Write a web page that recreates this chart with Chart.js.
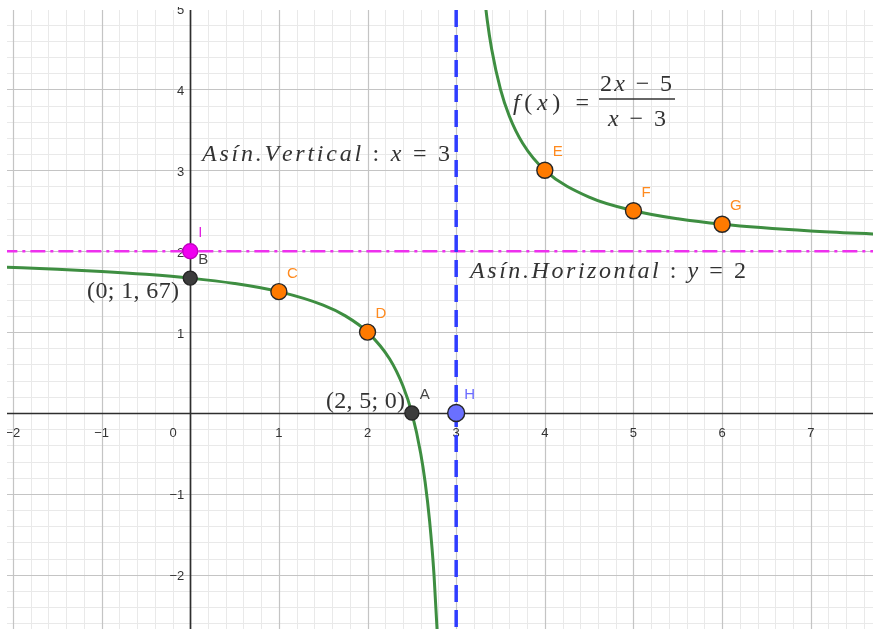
<!DOCTYPE html>
<html>
<head>
<meta charset="utf-8">
<script src="https://cdn.jsdelivr.net/npm/chart.js@4.4.1/dist/chart.umd.min.js"></script>
<style>
  html, body { margin: 0; padding: 0; background: #ffffff; }
  #wrap { width: 873px; height: 634px; }
</style>
</head>
<body>
<div id="wrap"><canvas id="graph"></canvas></div>
<script>
// f(x) = (2x − 5)/(x − 3), traced as two branches on either side of x = 3
const leftBranchX  = [-2.1, -1.5, -1, -0.5, 0, 0.5, 1, 1.5, 1.75, 2, 2.25, 2.4, 2.5, 2.6, 2.65, 2.7, 2.75, 2.8];
const leftBranchY  = [1.804, 1.778, 1.75, 1.714, 1.667, 1.6, 1.5, 1.333, 1.2, 1, 0.667, 0.333, 0, -0.5, -0.857, -1.333, -2, -3];
const rightBranchX = [3.3, 3.35, 3.4, 3.5, 3.6, 3.75, 4, 4.5, 5, 5.5, 6, 7, 7.8];
const rightBranchY = [5.333, 4.857, 4.5, 4, 3.667, 3.333, 3, 2.667, 2.5, 2.4, 2.333, 2.25, 2.208];

// asymptotes
const verticalAsymptoteX = 3;
const horizontalAsymptoteY = 2;

// named points
const orangeNames = ['C', 'D', 'E', 'F', 'G'];
const orangeX = [1, 2, 4, 5, 6];
const orangeY = [1.5, 1, 3, 2.5, 2.333];
const blackNames = ['B', 'A'];
const blackX = [0, 2.5];
const blackY = [1.667, 0];
const magentaNames = ['I'];
const magentaX = [0];
const magentaY = [2];
const blueNames = ['H'];
const blueX = [3];
const blueY = [0];

// axis tick labels
const xTickValues = [-2, -1, 0, 1, 2, 3, 4, 5, 6, 7];
const yTickValues = [-2, -1, 1, 2, 3, 4, 5];

// visible window
const X_MIN = -2.067, X_MAX = 7.702, Y_MIN = -2.67, Y_MAX = 4.981;

const pairs = (xs, ys) => xs.map((x, i) => ({ x, y: ys[i] }));
const fmt = v => (v < 0 ? '\u2212' + Math.abs(v) : String(v));

// draws a string made of upright / italic runs, char by char, optionally stretched to a width
function drawRuns(ctx, runs, x, baseline, o) {
  const fontFor = it => `${it ? 'italic ' : ''}${o.size}px ${o.family}`;
  const chars = [];
  runs.forEach(r => { for (const ch of r.t) chars.push({ ch, it: r.it }); });
  let natural = 0;
  chars.forEach(c => { ctx.font = fontFor(c.it); c.w = ctx.measureText(c.ch).width; natural += c.w; });
  const extra = o.width ? (o.width - natural) / Math.max(1, chars.length - 1) : 0;
  const total = natural + extra * (chars.length - 1);
  let cx = o.align === 'right' ? x - total : o.align === 'center' ? x - total / 2 : x;
  ctx.fillStyle = o.color;
  ctx.textAlign = 'left';
  ctx.textBaseline = 'alphabetic';
  chars.forEach(c => { ctx.font = fontFor(c.it); ctx.fillText(c.ch, cx, baseline); cx += c.w + extra; });
}

const MATH = '"Liberation Serif", "DejaVu Serif", serif';
const TEXT_COLOR = '#333333';

// grid, axes and axis numbers
const coordGrid = {
  id: 'coordGrid',
  beforeDatasetsDraw(chart) {
    const { ctx, chartArea: a, scales: { x, y } } = chart;
    ctx.save();
    ctx.beginPath();
    ctx.rect(a.left, a.top, a.right - a.left, a.bottom - a.top);
    ctx.clip();
    const vline = (v, color, w) => {
      const p = Math.round(x.getPixelForValue(v)) + 0.5;
      ctx.strokeStyle = color; ctx.lineWidth = w;
      ctx.beginPath(); ctx.moveTo(p, a.top); ctx.lineTo(p, a.bottom); ctx.stroke();
    };
    const hline = (v, color, w) => {
      const p = Math.round(y.getPixelForValue(v)) + 0.5;
      ctx.strokeStyle = color; ctx.lineWidth = w;
      ctx.beginPath(); ctx.moveTo(a.left, p); ctx.lineTo(a.right, p); ctx.stroke();
    };
    // minor lines every 0.2
    for (let k = Math.ceil(X_MIN * 5); k <= Math.floor(X_MAX * 5); k++) if (k % 5) vline(k / 5, '#e9e9e9', 1);
    for (let k = Math.ceil(Y_MIN * 5); k <= Math.floor(Y_MAX * 5); k++) if (k % 5) hline(k / 5, '#e9e9e9', 1);
    // major lines every unit
    for (let k = Math.ceil(X_MIN); k <= Math.floor(X_MAX); k++) if (k) vline(k, '#c4c4c4', 1.2);
    for (let k = Math.ceil(Y_MIN); k <= Math.floor(Y_MAX); k++) if (k) hline(k, '#c4c4c4', 1.2);
    // axes
    vline(0, '#2e2e2e', 1.7);
    hline(0, '#2e2e2e', 1.7);
    ctx.restore();

    // axis numbers
    ctx.save();
    ctx.beginPath();
    ctx.rect(a.left, a.top - 3, a.right - a.left, a.bottom - a.top + 3);
    ctx.clip();
    ctx.fillStyle = '#333333';
    ctx.font = '13px "Liberation Sans", Arial, sans-serif';
    ctx.textBaseline = 'middle';
    const y0 = y.getPixelForValue(0);
    const x0 = x.getPixelForValue(0);
    xTickValues.forEach(v => {
      ctx.textAlign = 'center';
      const px = v === 0 ? x0 - 17 : x.getPixelForValue(v);
      ctx.fillText(fmt(v), px, y0 + 20);
    });
    yTickValues.forEach(v => {
      ctx.textAlign = 'right';
      ctx.fillText(fmt(v), x0 - 6, y.getPixelForValue(v) + 2);
    });
    ctx.restore();
  }
};

// point names and the written notes
const notes = {
  id: 'notes',
  afterDatasetsDraw(chart) {
    const { ctx, scales: { x, y } } = chart;
    ctx.save();
    // point names
    ctx.font = '15px "Liberation Sans", Arial, sans-serif';
    ctx.textAlign = 'left';
    ctx.textBaseline = 'alphabetic';
    chart.data.datasets.forEach((ds, di) => {
      if (!ds.names) return;
      const meta = chart.getDatasetMeta(di);
      meta.data.forEach((pt, i) => {
        ctx.fillStyle = ds.nameColor;
        ctx.fillText(ds.names[i], pt.x + 8, pt.y - 14);
      });
    });

    const X = v => x.getPixelForValue(v), Y = v => y.getPixelForValue(v);
    const base = { size: 24, family: MATH, color: TEXT_COLOR };

    drawRuns(ctx, [{ t: 'Asín.Vertical', it: true }, { t: ' : ', it: false }, { t: 'x', it: true }, { t: ' = 3', it: false }],
      X(0.133), Y(3.115), { ...base, width: 248 });
    drawRuns(ctx, [{ t: 'Asín.Horizontal', it: true }, { t: ' : ', it: false }, { t: 'y', it: true }, { t: ' = 2', it: false }],
      X(3.156), Y(1.669), { ...base, width: 276 });
    drawRuns(ctx, [{ t: '(0; 1, 67)', it: false }], X(-0.126), Y(1.421), { ...base, width: 92, align: 'right' });
    drawRuns(ctx, [{ t: '(2, 5; 0)', it: false }], X(2.423), Y(0.062), { ...base, width: 79, align: 'right' });

    // f(x) = (2x − 5)/(x − 3)
    const fx = X(3.641), fy = Y(3.888);
    drawRuns(ctx, [{ t: 'f', it: true }, { t: '(', it: false }, { t: 'x', it: true }, { t: ') =', it: false }],
      fx, fy + 12, { ...base, width: 76 });
    drawRuns(ctx, [{ t: '2', it: false }, { t: 'x', it: true }, { t: ' \u2212 5', it: false }],
      fx + 87, fy - 7, { ...base, width: 72 });
    drawRuns(ctx, [{ t: 'x', it: true }, { t: ' \u2212 3', it: false }],
      fx + 95, fy + 28, { ...base, width: 58 });
    ctx.strokeStyle = TEXT_COLOR;
    ctx.lineWidth = 1.4;
    ctx.beginPath();
    ctx.moveTo(fx + 86, fy + 0.5);
    ctx.lineTo(fx + 162, fy + 0.5);
    ctx.stroke();
    ctx.restore();
  }
};

const curveStyle = {
  type: 'line',
  borderColor: '#3e8e41',
  borderWidth: 3,
  pointRadius: 0,
  cubicInterpolationMode: 'monotone',
  tension: 0.4,
  capBezierPoints: false,
  order: 3
};

const pointStyle = (color, r) => ({
  type: 'scatter',
  showLine: false,
  pointRadius: r,
  pointHoverRadius: r,
  pointBackgroundColor: color,
  pointBorderColor: '#262626',
  pointBorderWidth: 1.4,
  order: 1
});

new Chart(document.getElementById('graph'), {
  type: 'scatter',
  data: {
    datasets: [
      { ...curveStyle, data: pairs(leftBranchX, leftBranchY) },
      { ...curveStyle, data: pairs(rightBranchX, rightBranchY) },
      {
        // drawn top-down so the dash pattern starts at the upper edge
        type: 'line', order: 4, pointRadius: 0, tension: 0,
        borderColor: '#2f3dff', borderWidth: 3.5, borderDash: [17, 8],
        data: [{ x: verticalAsymptoteX, y: Y_MAX }, { x: verticalAsymptoteX, y: Y_MIN - 1 }]
      },
      {
        type: 'line', order: 5, pointRadius: 0, tension: 0,
        borderColor: '#ee30ee', borderWidth: 2.6, borderDash: [15, 5, 3, 5],
        data: [{ x: X_MIN - 1, y: horizontalAsymptoteY }, { x: X_MAX + 1, y: horizontalAsymptoteY }]
      },
      { ...pointStyle('#ff7a00', 8), data: pairs(orangeX, orangeY), names: orangeNames, nameColor: '#ff8a1e' },
      { ...pointStyle('#3c3c3c', 7), data: pairs(blackX, blackY), names: blackNames, nameColor: '#444444' },
      { ...pointStyle('#f000f0', 7.5), pointBorderColor: '#c000c0', data: pairs(magentaX, magentaY), names: magentaNames, nameColor: '#e020e0' },
      { ...pointStyle('#6a70ff', 8.5), data: pairs(blueX, blueY), names: blueNames, nameColor: '#6b6bff' }
    ]
  },
  options: {
    responsive: true,
    maintainAspectRatio: false,
    animation: false,
    devicePixelRatio: 1,
    layout: { autoPadding: false, padding: { left: 7, top: 10, right: 0, bottom: 5 } },
    plugins: { legend: { display: false }, tooltip: { enabled: false } },
    scales: {
      x: { type: 'linear', min: X_MIN, max: X_MAX, display: false },
      y: { type: 'linear', min: Y_MIN, max: Y_MAX, display: false }
    }
  },
  plugins: [coordGrid, notes]
});
</script>
</body>
</html>
